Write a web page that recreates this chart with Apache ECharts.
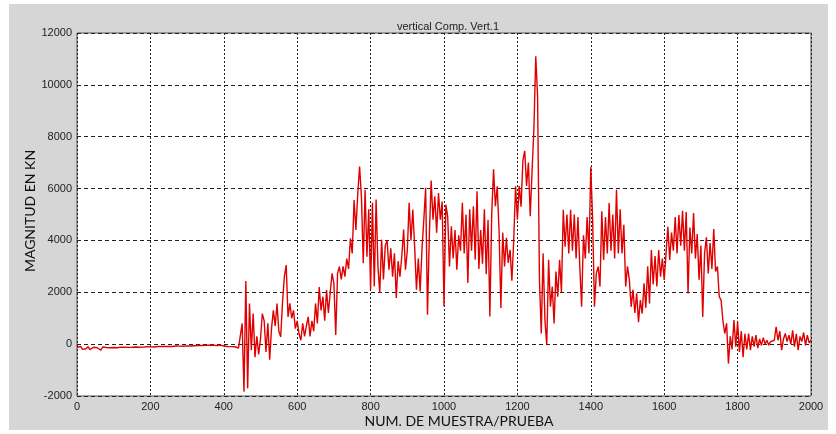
<!DOCTYPE html>
<html>
<head>
<meta charset="utf-8">
<script src="https://cdn.jsdelivr.net/npm/echarts@6/dist/echarts.min.js"></script>
<style>html,body{margin:0;padding:0;background:#fff}#c{width:836px;height:434px}</style>
</head>
<body>
<div id="c"></div>
<script>
// sample index step between values
const sampleStep = 5;
// values, per block of 100 samples (kN)
const seg0000 = [-120,-160,-90,-200,-130,-180,-100,-210,-150,-120,-190,-140,-170,-230,-110,-160,-130,-150,-140,-120];
const seg0100 = [-130,-120,-140,-125,-115,-130,-120,-110,-125,-135,-120,-115,-110,-125,-120,-105,-115,-110,-100,-110];
const seg0200 = [-105,-95,-110,-100,-90,-95,-85,-100,-90,-80,-85,-75,-90,-80,-70,-85,-75,-65,-80,-70];
const seg0300 = [-65,-55,-70,-50,-60,-45,-55,-40,-50,-35,-45,-55,-40,-50,-35,-45,-55,-50,-40,-60];
const seg0400 = [-70,-85,-90,-100,-95,-110,-100,-120,-150,-180,800,-1840,2430,-1700,1570,-230,1180,-500,300,-400];
const seg0500 = [200,1180,900,-300,800,-600,600,1300,700,1570,500,280,1600,2600,3050,1050,1570,1000,1300,600];
const seg0600 = [900,400,150,800,300,700,1050,300,900,500,1570,800,2200,1300,1830,900,2090,1200,2000,2730];
const seg0700 = [2340,350,2730,2990,2500,3000,2600,3300,2900,4080,3500,5560,4400,5800,6850,5690,3120,5950,3370,5200];
const seg0800 = [2100,5450,2230,5580,3000,1970,4030,2490,3800,4000,2870,3700,2600,3500,1780,3200,2600,3400,4420,2870];
const seg0900 = [3600,5450,4000,5190,3770,2100,3300,2030,3640,4800,6030,1130,4160,6310,4800,5700,4300,5830,4800,5500];
const seg1000 = [1460,5380,4930,3000,4550,3300,4400,2870,4200,3600,5450,3500,5000,2360,5200,3600,5320,3260,5900,2900];
const seg1100 = [4400,3100,5200,2700,4800,1070,5000,6740,5320,6090,4400,1390,4300,3000,4100,3130,3640,2450,4000,6090];
const seg1200 = [4800,6100,5300,7100,7450,6100,7000,4930,6700,8300,11100,9570,2540,410,3500,930,-40,3250,1440,2220];
const seg1300 = [800,2800,1830,3250,2000,5180,3760,5000,3500,5180,3600,5000,3300,4900,2990,1440,4200,3300,4900,3500];
const seg1400 = [6830,4800,1440,2730,2990,2220,5120,3250,4900,3500,5440,3600,5000,3300,5950,3500,5200,3500,4600,2220];
const seg1500 = [3000,2480,1440,2100,1200,1960,850,1700,1180,2350,1400,3000,1570,3630,2300,3400,2220,3630,2600,3300];
const seg1600 = [2480,3500,4530,3250,4300,3600,4900,3500,4980,3800,5140,3600,5100,1950,4500,3500,5060,3300,4250,2480];
const seg1700 = [3800,1050,3500,4120,2730,3900,2900,4440,2800,2990,1830,1700,900,410,800,-750,300,-200,930,-100];
const seg1800 = [860,-300,500,-500,400,-200,410,-230,300,-100,350,-150,200,-50,250,0,150,-40,100,50];
const seg1900 = [150,670,150,500,-230,200,410,100,350,0,530,-100,400,-230,300,100,450,-50,350,50,150];

const xTicks = [0,200,400,600,800,1000,1200,1400,1600,1800,2000];
const yTicks = [-2000,0,2000,4000,6000,8000,10000,12000];

const allVals = [].concat(seg0000,seg0100,seg0200,seg0300,seg0400,seg0500,seg0600,seg0700,seg0800,seg0900,
  seg1000,seg1100,seg1200,seg1300,seg1400,seg1500,seg1600,seg1700,seg1800,seg1900);
const seriesData = allVals.map((v,i)=>[i*sampleStep, v]);

const chart = echarts.init(document.getElementById('c'), null, {renderer:'canvas'});
chart.setOption({
  backgroundColor:'#ffffff',
  animation:false,
  title:{text:'vertical Comp. Vert.1', left:443, top:16, textAlign:'center',
    textStyle:{fontFamily:'Liberation Sans, Arial', fontSize:11, fontWeight:'normal', color:'#222'}},
  graphic:[
    {type:'rect', z:-10, silent:true, shape:{x:9,y:4,width:819,height:426}, style:{fill:'#d6d6d6'}},
    {type:'text', z:10, style:{text:'NUM. DE MUESTRA/PRUEBA', x:459, y:421, textAlign:'center', textVerticalAlign:'middle',
      font:'14px Lato, "Open Sans", sans-serif', fill:'#111'}},
    {type:'text', z:10, rotation:Math.PI/2, x:30, y:211, style:{text:'MAGNITUD EN KN', x:0, y:0, textAlign:'center', textVerticalAlign:'middle',
      font:'14px Lato, "Open Sans", sans-serif', fill:'#111'}}
  ],
  grid:{left:77, right:25, top:33, bottom:38, show:true, backgroundColor:'#ffffff', borderColor:'#555', borderWidth:1},
  xAxis:{type:'value', min:0, max:2000, interval:200,
    axisLine:{show:false}, axisTick:{show:false},
    axisLabel:{fontFamily:'Liberation Sans, Arial', fontSize:11, color:'#222', margin:5, formatter:v=>String(v)},
    splitLine:{show:true, lineStyle:{color:'#222', type:[2,2], width:1}}},
  yAxis:{type:'value', min:-2000, max:12000, interval:2000,
    axisLine:{show:false}, axisTick:{show:false},
    axisLabel:{fontFamily:'Liberation Sans, Arial', fontSize:11, color:'#222', margin:5, formatter:v=>String(v)},
    splitLine:{show:true, lineStyle:{color:'#222', type:[4,3], width:1}}},
  series:[{type:'line', data:seriesData, showSymbol:false, symbol:'none',
    lineStyle:{color:'#e00000', width:1.4}, itemStyle:{color:'#e00000'}}]
});
</script>
</body>
</html>
